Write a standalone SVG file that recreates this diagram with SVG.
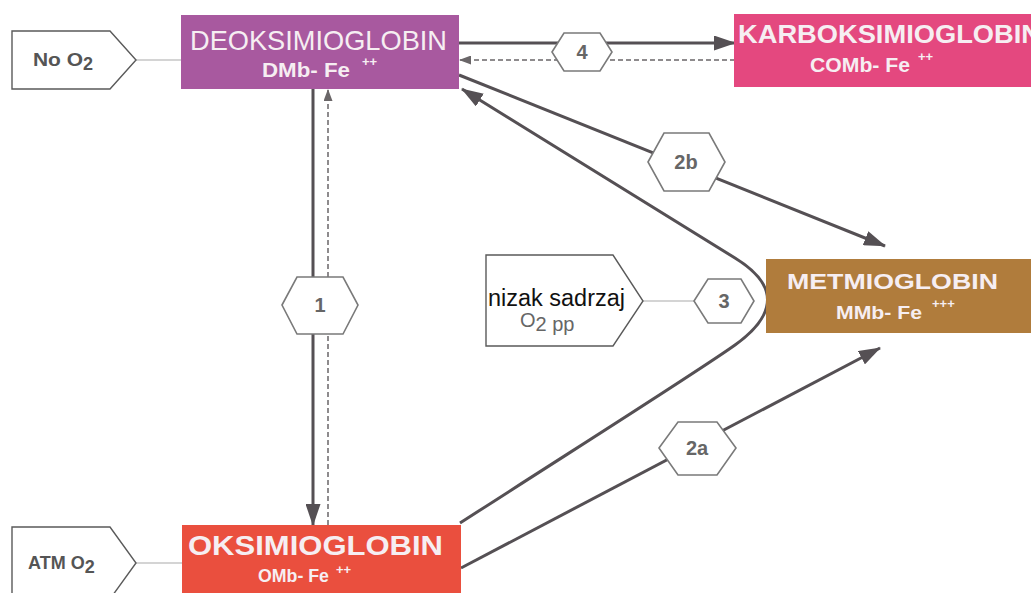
<svg xmlns="http://www.w3.org/2000/svg" width="1031" height="593" viewBox="0 0 1031 593">
<style>
.box-t{font-family:"Liberation Sans",Arial,sans-serif;fill:#f6eef2}
.b{font-weight:bold}
.sup{font-family:"Liberation Sans",Arial,sans-serif;font-weight:bold;font-size:13px;fill:#f6eef2}
.pent{fill:#fff;stroke:#5a5a5a;stroke-width:1.4}
.pt{font-family:"Liberation Sans",Arial,sans-serif;font-weight:bold;font-size:18px;fill:#555}
.hex{fill:#fff;stroke:#7a7a7a;stroke-width:1.6}
.ht{font-family:"Liberation Sans",Arial,sans-serif;font-weight:bold;font-size:20px;fill:#666;text-anchor:middle}
.solid{fill:none;stroke:#555054;stroke-width:3}
.dash{fill:none;stroke:#6a6668;stroke-width:1.5;stroke-dasharray:5 3}
.thin{fill:none;stroke:#aaa;stroke-width:1.2}
</style>
<defs>
<marker id="ah" viewBox="0 0 22 15" refX="21" refY="7.5" markerWidth="22" markerHeight="15" orient="auto" markerUnits="userSpaceOnUse"><path d="M0,0 L22,7.5 L0,15 Z" fill="#555054"/></marker>
<marker id="ahs" viewBox="0 0 12 9" refX="11" refY="4.5" markerWidth="12" markerHeight="9" orient="auto" markerUnits="userSpaceOnUse"><path d="M0,0 L12,4.5 L0,9 Z" fill="#6a6668"/></marker>
</defs>
<rect width="1031" height="593" fill="#fff"/>
<g id="connectors">
<line class="thin" x1="136" y1="60" x2="181" y2="60"/>
<line class="thin" x1="136" y1="563" x2="183" y2="563"/>
<line class="thin" x1="643" y1="301" x2="694" y2="301"/>
<line class="solid" x1="313" y1="89" x2="313" y2="525" marker-end="url(#ah)"/>
<line class="dash" x1="328" y1="525" x2="328" y2="90" marker-end="url(#ahs)"/>
<line class="solid" x1="459" y1="43" x2="735" y2="43" marker-end="url(#ah)"/>
<line class="dash" x1="735" y1="60" x2="460" y2="60" marker-end="url(#ahs)"/>
<path class="solid" d="M460,523 C600,433 700,370 735,345 Q800,298 735,258 L462,89" marker-end="url(#ah)"/>
<line class="solid" x1="459" y1="75" x2="885" y2="246" marker-end="url(#ah)"/>
<line class="solid" x1="461" y1="568" x2="880" y2="348" marker-end="url(#ah)"/>
</g>
<g id="no-o2">
<path class="pent" d="M12,31 L110,31 L136,60 L110,89 L12,89 Z"/>
<text class="pt" x="33" y="66"><tspan textLength="50" lengthAdjust="spacingAndGlyphs">No O</tspan><tspan dy="4">2</tspan></text>
</g>
<g id="atm-o2">
<path class="pent" d="M12,527 L110,527 L136,563 L110,599 L12,599 Z"/>
<text class="pt" x="28" y="569" font-size="17">ATM O<tspan dy="4">2</tspan></text>
</g>
<g id="nizak">
<path class="pent" d="M486,255 L613,255 L643,301 L613,346 L486,346 Z"/>
<text x="488" y="306" font-family="Liberation Sans,Arial,sans-serif" font-size="23" fill="#111" textLength="137" lengthAdjust="spacingAndGlyphs">nizak sadrzaj</text>
<text x="520" y="327" font-family="Liberation Sans,Arial,sans-serif" font-size="20" fill="#666">O<tspan dy="4">2 pp</tspan></text>
</g>
<g id="deoksimioglobin">
<rect x="181" y="15" width="278" height="74" fill="#a8599f"/>
<text class="box-t" x="190" y="50" font-size="28" textLength="257" lengthAdjust="spacingAndGlyphs">DEOKSIMIOGLOBIN</text>
<text class="box-t b" x="262" y="77" font-size="21" textLength="88" lengthAdjust="spacingAndGlyphs">DMb- Fe</text>
<text class="sup" x="362" y="66">++</text>
</g>
<g id="karboksimioglobin">
<rect x="734" y="14" width="297" height="73" fill="#e4487f"/>
<text class="box-t b" x="738" y="43" font-size="26" textLength="303" lengthAdjust="spacingAndGlyphs">KARBOKSIMIOGLOBIN</text>
<text class="box-t b" x="810" y="72" font-size="21" textLength="100" lengthAdjust="spacingAndGlyphs">COMb- Fe</text>
<text class="sup" x="918" y="61">++</text>
</g>
<g id="metmioglobin">
<rect x="766" y="259" width="265" height="74" fill="#b07c3c"/>
<text class="box-t b" x="787" y="289" font-size="22" textLength="211" lengthAdjust="spacingAndGlyphs">METMIOGLOBIN</text>
<text class="box-t b" x="836" y="319" font-size="19" textLength="86" lengthAdjust="spacingAndGlyphs">MMb- Fe</text>
<text class="sup" x="932" y="308">+++</text>
</g>
<g id="oksimioglobin">
<rect x="182" y="525" width="279" height="68" fill="#ea4f3e"/>
<text class="box-t b" x="188" y="555" font-size="28" textLength="255" lengthAdjust="spacingAndGlyphs">OKSIMIOGLOBIN</text>
<text class="box-t b" x="258" y="582" font-size="19" textLength="71" lengthAdjust="spacingAndGlyphs">OMb- Fe</text>
<text class="sup" x="336" y="574">++</text>
</g>
<g id="hex-1">
<path class="hex" d="M282,305 L297,277 L343,277 L358,305 L343,334 L297,334 Z"/>
<text class="ht" x="320" y="312">1</text>
</g>
<g id="hex-4">
<path class="hex" d="M552,52 L564,33 L600,33 L612,52 L600,71 L564,71 Z"/>
<text class="ht" x="582" y="59">4</text>
</g>
<g id="hex-2b">
<path class="hex" d="M648,162 L664,133 L709,133 L725,162 L709,191 L664,191 Z"/>
<text class="ht" x="686" y="169">2b</text>
</g>
<g id="hex-2a">
<path class="hex" d="M659,448 L678,422 L717,422 L736,448 L717,475 L678,475 Z"/>
<text class="ht" x="697" y="455">2a</text>
</g>
<g id="hex-3">
<path class="hex" d="M694,301 L708,279 L741,279 L754,301 L741,323 L708,323 Z"/>
<text class="ht" x="724" y="308">3</text>
</g>
</svg>
